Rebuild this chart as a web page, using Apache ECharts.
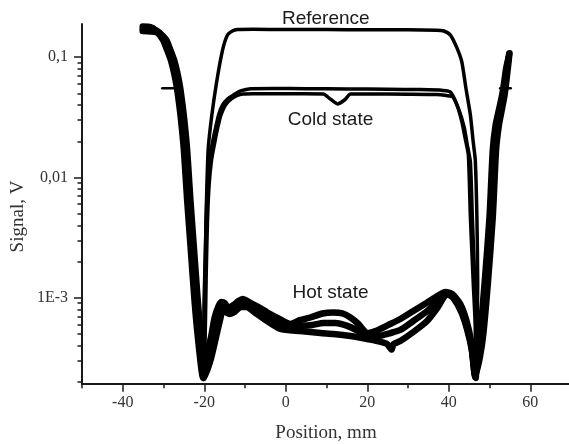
<!DOCTYPE html>
<html><head><meta charset="utf-8">
<script src="https://cdn.jsdelivr.net/npm/echarts@6/dist/echarts.min.js"></script>
<style>html,body{margin:0;padding:0;background:#fff}#c{width:569px;height:444px}</style>
</head><body><div id="c"></div>
<script>
// ---- tick values / labels ----
const xMajorTicks = [-40, -20, 0, 20, 40, 60];
const xMinorTicks = [-50, -30, -10, 10, 30, 50];
const yMajorTicks = [0.001, 0.01, 0.1];
const yMinorTicks = [2e-4,3e-4,4e-4,5e-4,6e-4,7e-4,8e-4,9e-4,2e-3,3e-3,4e-3,5e-3,6e-3,7e-3,8e-3,9e-3,0.02,0.03,0.04,0.05,0.06,0.07,0.08,0.09];
const yTickLabels = {'-3': '1E-3', '-2': '0,01', '-1': '0,1'};

// ---- outer walls (beam edge, common to every scan) [mm, V] ----
const leftWallL = [[-35.1,0.180],[-33.2,0.178],[-31.9,0.167],[-30.1,0.139],[-29.2,0.117],[-28.2,0.0949],[-27.4,0.0740],[-26.7,0.0555],[-26.2,0.0417],[-25.7,0.0301],[-25.0,0.0169],[-24.2,0.0065],[-23.3,0.00249],[-22.4,0.000957],[-21.5,0.000445],[-20.3,0.000215]];
const leftWallM = [[-35.1,0.172],[-33.2,0.171],[-31.5,0.165],[-29.7,0.139],[-28.8,0.117],[-27.8,0.0949],[-27.0,0.0740],[-26.3,0.0555],[-25.8,0.0417],[-25.3,0.0301],[-24.6,0.0169],[-23.8,0.0065],[-22.9,0.00249],[-22.0,0.000957],[-21.2,0.000445],[-20.2,0.000215]];
const leftWallR = [[-35.1,0.165],[-33.2,0.164],[-31.1,0.160],[-29.3,0.139],[-28.4,0.117],[-27.4,0.0949],[-26.6,0.0740],[-25.9,0.0555],[-25.4,0.0417],[-24.9,0.0301],[-24.2,0.0169],[-23.4,0.0065],[-22.5,0.00249],[-21.6,0.000957],[-20.8,0.000445],[-20.1,0.000215]];
const rightWallL = [[46.8,0.000315],[47.7,0.000508],[48.8,0.00133],[50.0,0.00469],[50.8,0.0169],[51.5,0.0273],[52.3,0.0364],[53.1,0.0486],[53.6,0.0623],[54.1,0.0815],[54.7,0.100]];
const rightWallM = [[47.2,0.000315],[48.1,0.000508],[49.2,0.00133],[50.4,0.00469],[51.2,0.0169],[51.9,0.0273],[52.6,0.0364],[53.4,0.0486],[53.8,0.0623],[54.3,0.0815],[54.8,0.1065]];
const rightWallR = [[47.6,0.000315],[48.5,0.000508],[49.6,0.00133],[50.8,0.00469],[51.6,0.0169],[52.3,0.0273],[53.0,0.0364],[53.7,0.0486],[54.1,0.0623],[54.5,0.0815],[54.9,0.108]];

// ---- Reference ----
const referenceInner = [[-20.05,0.000957],[-19.7,0.00249],[-19.45,0.0065],[-19.05,0.0169],[-18.2,0.0318],[-17.0,0.0611],[-15.5,0.115],[-14.3,0.153],[-13.1,0.1655],[-11.8,0.170],[-8,0.171],[0,0.170],[10,0.170],[20,0.169],[30,0.169],[37,0.168],[38.6,0.166],[40.4,0.153],[42.0,0.1195],[43.2,0.0914],[44.2,0.0555],[45.3,0.0331],[46.0,0.0197],[46.5,0.0140],[46.9,0.0047],[47.1,0.00133],[46.9,0.000539],[46.6,0.000227]];

// ---- Cold state (two scans) ----
const coldInnerA = [[-19.93,0.000653],[-19.8,0.0017],[-19.56,0.00443],[-19.19,0.00866],[-18.70,0.0140],[-17.97,0.0197],[-17.23,0.0258],[-16.49,0.0331],[-15.51,0.0401],[-14.29,0.0450],[-12.82,0.0486],[-11.10,0.0524],[-8.6,0.0548],[-3,0.0550],[5,0.0548],[15,0.0545],[25,0.0541],[33,0.0538],[38.6,0.0530],[40.4,0.0514],[42.0,0.0401],[43.2,0.0291],[44.0,0.0213],[44.8,0.0154],[45.3,0.0047],[46.0,0.00133],[46.5,0.000539],[46.5,0.000227]];
const coldInnerB = [[-19.7,0.00065],[-19.5,0.0017],[-19.2,0.0044],[-18.8,0.0087],[-18.2,0.0140],[-17.4,0.0197],[-16.7,0.0258],[-15.9,0.0331],[-14.8,0.0401],[-13.5,0.0445],[-12.0,0.0478],[-10.5,0.0494],[-8,0.0497],[0,0.0496],[9.2,0.0495],[10.9,0.0450],[12.7,0.0409],[14.4,0.0441],[15.9,0.0494],[20,0.0495],[30,0.0493],[37,0.0490],[39.4,0.0480],[41.0,0.0468],[42.6,0.0357],[43.8,0.0260],[44.5,0.0190],[45.3,0.01346],[45.8,0.0045],[46.4,0.00133],[46.7,0.00054],[46.6,0.000227]];

// ---- Hot state (three scans) ----
const hotInnerA = [[-19.44,0.000334],[-18.33,0.000471],[-17.48,0.000678],[-16.49,0.000853],[-15.76,0.000921],[-15.02,0.000903],[-14.04,0.000821],[-12.82,0.000869],[-11.59,0.000939],[-10.61,0.000975],[-8.65,0.000903],[-6.69,0.000837],[-4.49,0.000753],[-1.79,0.000671],[1.15,0.000604],[3.60,0.000653],[6.05,0.000684],[9.00,0.000739],[11.69,0.000753],[13.90,0.000739],[15.86,0.000684],[17.82,0.000604],[19.95,0.000508],[22.40,0.000534],[25.17,0.000593],[28.11,0.000665],[31.30,0.000775],[34.73,0.000912],[37.18,0.001033],[39.14,0.001115],[40.86,0.001073],[42.82,0.000886],[44.29,0.000653],[45.51,0.000428],[46.49,0.000223]];
const hotInnerB = [[-18.95,0.000321],[-17.72,0.000471],[-16.74,0.000665],[-16.00,0.000821],[-15.27,0.000869],[-14.29,0.000790],[-13.31,0.000790],[-11.84,0.000886],[-10.37,0.000921],[-8.16,0.000837],[-5.71,0.000746],[-3.26,0.000665],[-0.07,0.000593],[3.60,0.000587],[6.54,0.000593],[9.24,0.000616],[12.18,0.000616],[15.12,0.000582],[17.82,0.000528],[20.02,0.000480],[22.72,0.000480],[25.66,0.000508],[28.11,0.000539],[31.30,0.000640],[34.73,0.000775],[37.43,0.000939],[39.39,0.001093],[41.10,0.001033],[42.82,0.000837],[44.29,0.000593],[45.51,0.000404],[46.49,0.000219]];
const hotInnerC = [[-18.46,0.000303],[-17.11,0.000471],[-16.13,0.000653],[-15.51,0.000775],[-14.78,0.000760],[-13.80,0.000732],[-12.57,0.000760],[-11.10,0.000837],[-9.63,0.000837],[-7.43,0.000746],[-4.98,0.000653],[-1.30,0.000549],[3.60,0.000528],[8.50,0.000508],[11.69,0.000499],[15.86,0.000480],[19.95,0.000453],[22.48,0.000436],[24.85,0.000412],[26.0,0.000370],[26.4,0.000410],[28.11,0.000436],[31.30,0.000518],[34.66,0.000640],[37.18,0.000821],[39.56,0.001073],[41.10,0.000994],[43.06,0.000760],[44.53,0.000539],[45.76,0.000352],[46.61,0.000215]];

// ---- short level marks ----
const levelMarkLeft = [[-30.3,0.0552],[-27.6,0.0552]];
const levelMarkRight = [[52.6,0.0552],[55.2,0.0552]];

const referenceScan = leftWallL.concat(referenceInner, rightWallM);
const coldScanA = leftWallM.concat(coldInnerA, rightWallL);
const coldScanB = leftWallR.concat(coldInnerB, rightWallR);
const hotScanA = leftWallL.concat(hotInnerA, rightWallR);
const hotScanB = leftWallM.concat(hotInnerB, rightWallM);
const hotScanC = leftWallR.concat(hotInnerC, rightWallL);

const X_MIN = -50, X_MAX = 69.5, Y_MIN = 1.925e-4, Y_MAX = 0.189;
const AX = '#1a1a1a';
const serif = '"Liberation Serif", "DejaVu Serif", serif';
const sans = '"Liberation Sans", Arial, sans-serif';

function lineSeries(name, data, w) {
  return {type: 'line', name, data, xAxisIndex: 0, yAxisIndex: 0, symbol: 'none', showSymbol: false,
    smooth: 0.2, silent: true, lineStyle: {color: '#000', width: w, cap: 'round', join: 'round'}};
}

const chart = echarts.init(document.getElementById('c'), null, {renderer: 'canvas'});
chart.setOption({
  animation: false,
  backgroundColor: '#fff',
  grid: {left: 82, top: 24, right: 0, bottom: 60.3, containLabel: false},
  xAxis: [{
    type: 'value', position: 'bottom', min: X_MIN, max: X_MAX,
    axisLine: {show: true, onZero: false, lineStyle: {color: AX, width: 2}},
    axisTick: {show: true, inside: false, length: 8, customValues: xMajorTicks, lineStyle: {color: AX, width: 1.5}},
    axisLabel: {customValues: xMajorTicks, margin: 11, fontFamily: serif, fontSize: 16, color: '#333'},
    splitLine: {show: false}
  }, {
    type: 'value', position: 'bottom', min: X_MIN, max: X_MAX,
    axisLine: {show: false, onZero: false},
    axisTick: {show: true, inside: false, length: 4.5, customValues: xMinorTicks, lineStyle: {color: AX, width: 1.5}},
    axisLabel: {show: false}, splitLine: {show: false}
  }],
  yAxis: [{
    type: 'log', logBase: 10, position: 'left', min: Y_MIN, max: Y_MAX,
    axisLine: {show: true, onZero: false, lineStyle: {color: AX, width: 2}},
    axisTick: {show: true, inside: false, length: 8, customValues: yMajorTicks, lineStyle: {color: AX, width: 1.5}},
    axisLabel: {customValues: yMajorTicks, margin: 14, fontFamily: serif, fontSize: 16, color: '#333',
      formatter: v => yTickLabels[String(Math.round(Math.log10(v)))] || ''},
    splitLine: {show: false}
  }, {
    type: 'log', logBase: 10, position: 'left', min: Y_MIN, max: Y_MAX,
    axisLine: {show: false, onZero: false},
    axisTick: {show: true, inside: false, length: 4.5, customValues: yMinorTicks, lineStyle: {color: AX, width: 1.5}},
    axisLabel: {show: false}, splitLine: {show: false}
  }],
  series: [
    lineSeries('Reference', referenceScan, 3.5),
    lineSeries('Cold state A', coldScanA, 3.5),
    lineSeries('Cold state B', coldScanB, 3.5),
    lineSeries('Hot state A', hotScanA, 6.5),
    lineSeries('Hot state B', hotScanB, 6.5),
    lineSeries('Hot state C', hotScanC, 6.5),
    lineSeries('mark L', levelMarkLeft, 2.5),
    lineSeries('mark R', levelMarkRight, 2.5)
  ],
  graphic: [
    {type: 'text', x: 325.8, y: 18.3, style: {text: 'Reference', font: '19px ' + sans, fill: '#1a1a1a', align: 'center', verticalAlign: 'middle', textAlign: 'center', textVerticalAlign: 'middle'}},
    {type: 'text', x: 330.5, y: 119.3, style: {text: 'Cold state', font: '19px ' + sans, fill: '#1a1a1a', align: 'center', verticalAlign: 'middle', textAlign: 'center', textVerticalAlign: 'middle'}},
    {type: 'text', x: 330.5, y: 292.7, style: {text: 'Hot state', font: '19px ' + sans, fill: '#1a1a1a', align: 'center', verticalAlign: 'middle', textAlign: 'center', textVerticalAlign: 'middle'}},
    {type: 'text', x: 326, y: 433.5, style: {text: 'Position, mm', font: '19px ' + serif, fill: '#333', align: 'center', verticalAlign: 'middle', textAlign: 'center', textVerticalAlign: 'middle'}},
    {type: 'text', x: 18, y: 216.5, rotation: Math.PI / 2, style: {text: 'Signal, V', font: '19px ' + serif, fill: '#333', align: 'center', verticalAlign: 'middle', textAlign: 'center', textVerticalAlign: 'middle'}}
  ]
});
</script>
</body></html>
